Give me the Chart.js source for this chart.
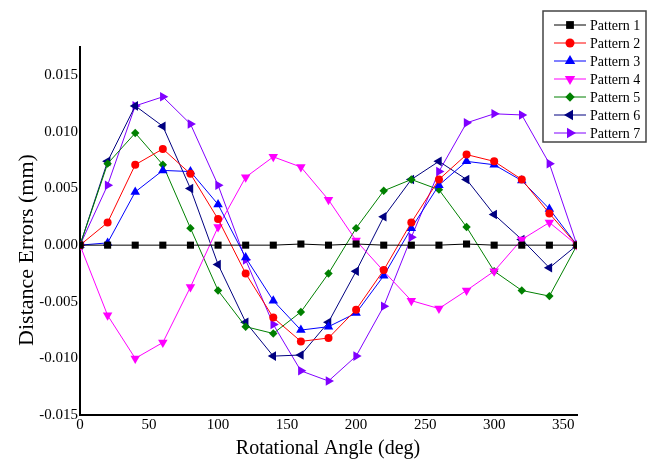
<!DOCTYPE html>
<html>
<head>
<meta charset="utf-8">
<script src="https://cdn.jsdelivr.net/npm/chart.js@4/dist/chart.umd.min.js"></script>
<style>
  html, body { margin: 0; padding: 0; background: #fff; }
  #wrap { width: 650px; height: 460px; }
</style>
</head>
<body>
<div id="wrap"><canvas id="chart" width="650" height="460"></canvas></div>
<script>
// angles (deg) and the errors (mm) for every pattern
const angles = [0, 20, 40, 60, 80, 100, 120, 140, 160, 180, 200, 220, 240, 260, 280, 300, 320, 340, 360];
const pattern1 = [0, 0, 0, 0, 0, 0, 0, 0, 0.0001, 0, 0.0001, 0, 0, 0, 0.0001, 0, 0, 0, 0];
const pattern2 = [0, 0.0020, 0.0071, 0.0085, 0.0063, 0.0023, -0.0025, -0.0064, -0.0085, -0.0082, -0.0057, -0.0022, 0.0020, 0.0058, 0.0080, 0.0074, 0.0058, 0.0028, 0];
const pattern3 = [0, 0.0002, 0.0047, 0.0066, 0.0065, 0.0036, -0.0011, -0.0049, -0.0075, -0.0072, -0.0060, -0.0027, 0.0015, 0.0053, 0.0074, 0.0071, 0.0057, 0.0032, 0];
const pattern4 = [0, -0.0062, -0.0100, -0.0086, -0.0037, 0.0016, 0.0060, 0.0078, 0.0069, 0.0040, 0.0004, -0.0023, -0.0049, -0.0056, -0.0040, -0.0023, 0.0005, 0.0020, 0];
const pattern5 = [0, 0.0072, 0.0099, 0.0071, 0.0015, -0.0040, -0.0072, -0.0078, -0.0059, -0.0025, 0.0015, 0.0048, 0.0058, 0.0049, 0.0016, -0.0023, -0.0040, -0.0045, 0];
const pattern6 = [0, 0.0074, 0.0123, 0.0105, 0.0050, -0.0017, -0.0068, -0.0098, -0.0097, -0.0068, -0.0023, 0.0025, 0.0058, 0.0074, 0.0058, 0.0027, 0.0005, -0.0020, 0];
const pattern7 = [0, 0.0053, 0.0123, 0.0131, 0.0107, 0.0053, -0.0013, -0.0070, -0.0111, -0.0120, -0.0098, -0.0054, 0.0007, 0.0065, 0.0108, 0.0116, 0.0115, 0.0072, 0];

const seriesNames = ['Pattern 1', 'Pattern 2', 'Pattern 3', 'Pattern 4', 'Pattern 5', 'Pattern 6', 'Pattern 7'];
const xTicks = [0, 50, 100, 150, 200, 250, 300, 350];
const yTicks = [-0.015, -0.010, -0.005, 0.000, 0.005, 0.010, 0.015];

const allSeries = [pattern1, pattern2, pattern3, pattern4, pattern5, pattern6, pattern7];
const colors = ['#000000', '#ff0000', '#0000ff', '#ff00ff', '#008000', '#000080', '#8000ff'];
const markers = [
  { style: 'rect', rot: 0, r: 5 },
  { style: 'circle', rot: 0, r: 4 },
  { style: 'triangle', rot: 0, r: 5.5 },
  { style: 'triangle', rot: 180, r: 5.5 },
  { style: 'rectRot', rot: 0, r: 4.2 },
  { style: 'triangle', rot: 270, r: 5.5 },
  { style: 'triangle', rot: 90, r: 5.5 },
];

const datasets = allSeries.map((vals, i) => ({
  label: seriesNames[i],
  data: angles.map((a, j) => ({ x: a, y: vals[j] })),
  borderColor: colors[i],
  backgroundColor: colors[i],
  borderWidth: 1,
  pointStyle: markers[i].style,
  pointRotation: markers[i].rot,
  pointRadius: markers[i].r,
  pointBorderWidth: 0,
  tension: 0,
}));

const serif = "'Liberation Serif', 'DejaVu Serif', serif";

// legend drawn by hand: line with marker through it, box round it
const legendBox = {
  id: 'legendBox',
  afterDraw(chart) {
    const ctx = chart.ctx;
    const x0 = 543, y0 = 11, w = 103, h = 131;
    ctx.save();
    ctx.fillStyle = '#fff';
    ctx.fillRect(x0, y0, w, h);
    ctx.strokeStyle = '#444';
    ctx.lineWidth = 1.5;
    ctx.strokeRect(x0, y0, w, h);
    ctx.font = '14px ' + serif;
    ctx.textBaseline = 'middle';
    chart.data.datasets.forEach((ds, i) => {
      const y = 25 + i * 18;
      ctx.strokeStyle = ds.borderColor;
      ctx.lineWidth = 1;
      ctx.beginPath();
      ctx.moveTo(554, y);
      ctx.lineTo(586, y);
      ctx.stroke();
      ctx.fillStyle = ds.backgroundColor;
      Chart.helpers.drawPoint(ctx, {
        pointStyle: ds.pointStyle,
        rotation: ds.pointRotation,
        radius: ds.pointRadius + 0.5,
        borderWidth: 0,
      }, 570, y);
      ctx.fillStyle = '#000';
      ctx.fillText(ds.label, 590, y + 1);
    });
    ctx.restore();
  },
};

// axis titles placed where the reference has them
const axisTitles = {
  id: 'axisTitles',
  afterDraw(chart) {
    const ctx = chart.ctx;
    ctx.save();
    ctx.fillStyle = '#000';
    ctx.textAlign = 'center';
    ctx.textBaseline = 'middle';
    ctx.font = '20px ' + serif;
    ctx.fillText('Rotational Angle (deg)', 328, 449);
    ctx.font = '22px ' + serif;
    ctx.translate(27, 250);
    ctx.rotate(-Math.PI / 2);
    ctx.fillText('Distance Errors (mm)', 0, 0);
    ctx.restore();
  },
};

new Chart(document.getElementById('chart'), {
  type: 'line',
  data: { datasets },
  options: {
    responsive: false,
    animation: false,
    layout: { padding: { left: 0, right: 73, top: 47, bottom: 0 } },
    plugins: {
      legend: { display: false },
      tooltip: { enabled: false },
    },
    scales: {
      x: {
        type: 'linear',
        min: 0,
        max: 360,
        afterBuildTicks: (scale) => { scale.ticks = xTicks.map((v) => ({ value: v })); },
        afterFit: (scale) => { scale.height = 45; },
        grid: { display: false, drawTicks: false, tickLength: 0 },
        border: { display: true, color: '#000', width: 2 },
        ticks: {
          color: '#000',
          padding: 1,
          maxRotation: 0,
          font: { family: serif, size: 15 },
          callback: (v) => String(v),
        },
      },
      y: {
        type: 'linear',
        min: -0.015,
        max: 0.0175,
        afterBuildTicks: (scale) => { scale.ticks = yTicks.map((v) => ({ value: v })); },
        afterFit: (scale) => { scale.width = 80; },
        grid: { display: false, drawTicks: false, tickLength: 0 },
        border: { display: true, color: '#000', width: 2 },
        ticks: {
          color: '#000',
          padding: 2,
          font: { family: serif, size: 15 },
          callback: (v) => Number(v).toFixed(3),
        },
      },
    },
  },
  plugins: [legendBox, axisTitles],
});
</script>
</body>
</html>
